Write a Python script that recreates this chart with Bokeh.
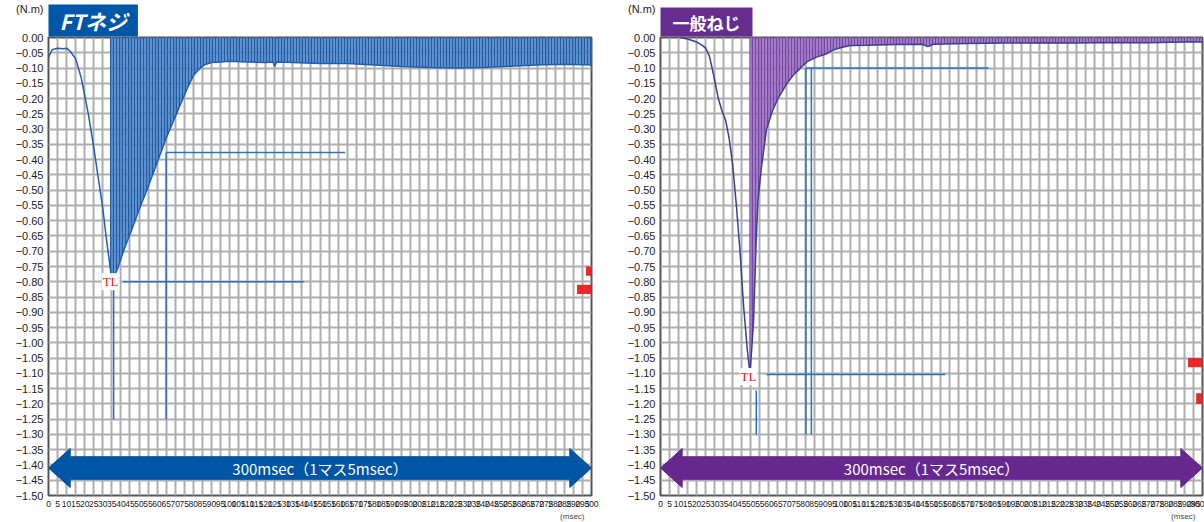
from bokeh.plotting import figure
from bokeh.models import FixedTicker, Label, Range1d, Title
from bokeh.layouts import row
from bokeh.embed import file_html
from bokeh.resources import INLINE

# ---------------- data ----------------
X_TICKS = list(range(0, 305, 5))
Y_TICKS = [0.0] + [round(-0.05 * i, 2) for i in range(1, 31)]
Y_TICK_LABELS = ["0.00"] + ["\u2212%.2f" % abs(t) for t in Y_TICKS[1:]]
Y_UNIT = "(N.m)"
X_UNIT = "(msec)"

# FT screw (left)
FT_TIME = [0, 2, 5, 8, 10, 12, 15, 18, 20, 22, 25, 28, 30, 32, 34, 35,
           38, 42, 46, 50, 55, 60, 65, 70, 75, 78, 80, 83, 86, 90, 95, 100,
           110, 120, 124, 125, 126, 135, 150, 165, 180, 195, 210, 225, 240,
           255, 270, 285, 300]
FT_TORQUE = [-0.065, -0.04, -0.035, -0.037, -0.035, -0.045, -0.07, -0.13, -0.19,
             -0.25, -0.36, -0.48, -0.56, -0.66, -0.75, -0.80,
             -0.76, -0.69, -0.63, -0.565, -0.49, -0.41, -0.33, -0.26, -0.19,
             -0.15, -0.125, -0.105, -0.09, -0.082, -0.08, -0.078,
             -0.08, -0.082, -0.08, -0.095, -0.08, -0.082, -0.085, -0.085, -0.09,
             -0.095, -0.098, -0.10, -0.098, -0.094, -0.09, -0.088, -0.09]
FT_SHADE_FROM = 34
FT_TL = (34.3, -0.80)
FT_SEG_X0 = [36, 41, 65, 65]
FT_SEG_Y0 = [-0.81, -0.80, -0.377, -0.377]
FT_SEG_X1 = [36, 141, 65, 164]
FT_SEG_Y1 = [-1.25, -0.80, -1.25, -0.377]
FT_RED_LEFT = [297, 292]
FT_RED_RIGHT = [300, 300]
FT_RED_TOP = [-0.75, -0.81]
FT_RED_BOTTOM = [-0.78, -0.84]

# General screw (right)
GEN_TIME = [11, 15, 20, 23, 25, 27, 28, 30, 32, 34, 36, 38, 40, 42, 44, 46, 48, 49.5,
            50.5, 51.5, 53, 54, 56, 58.7, 62, 65, 70, 74, 77.5, 81, 86, 92, 96, 100,
            105, 115, 130, 145, 148, 151, 170, 190, 210, 230, 250, 270, 290, 300]
GEN_TORQUE = [0.0, -0.005, -0.015, -0.025, -0.035, -0.06, -0.085, -0.14, -0.20, -0.24,
              -0.27, -0.33, -0.42, -0.55, -0.70, -0.88, -1.02, -1.10,
              -1.02, -0.93, -0.66, -0.53, -0.42, -0.30, -0.24, -0.20, -0.15, -0.12,
              -0.10, -0.08, -0.065, -0.053, -0.04, -0.033,
              -0.026, -0.025, -0.023, -0.022, -0.03, -0.022, -0.02, -0.018, -0.017,
              -0.018, -0.016, -0.017, -0.015, -0.015]
GEN_SHADE_FROM = 49.3
GEN_TL = (48.7, -1.11)
GEN_SEG_X0 = [53, 58.7, 80.5, 83.5, 80.5]
GEN_SEG_Y0 = [-1.156, -1.104, -0.10, -0.10, -0.10]
GEN_SEG_X1 = [53, 157.7, 80.5, 83.5, 181.5]
GEN_SEG_Y1 = [-1.30, -1.104, -1.30, -1.30, -0.10]
GEN_RED_LEFT = [292, 296.5]
GEN_RED_RIGHT = [300, 300]
GEN_RED_TOP = [-1.05, -1.165]
GEN_RED_BOTTOM = [-1.08, -1.20]

ARROW_TEXT = "300msec\uff081\u30de\u30b95msec\uff09"

JP = "'Noto Sans CJK JP', sans-serif"
SANS = "'Liberation Sans', Arial, sans-serif"


def build(width, bl, br, t, v, shade_from, line_color, fill_color, hatch_color,
          arrow_color, title, title_bg, title_size, title_style, title_pad, segs, reds, tl):
    p = figure(width=width, height=522, x_range=Range1d(0, 300), y_range=Range1d(-1.5, 0),
               output_backend="svg", toolbar_location=None,
               min_border_left=bl, min_border_right=br, min_border_top=37, min_border_bottom=27)
    p.background_fill_color = "white"
    p.border_fill_color = "white"
    p.outline_line_color = "#555555"
    p.outline_line_width = 2

    # brand box (title) and unit labels
    p.add_layout(Title(text=title, align="left", text_color="white", text_font=JP,
                       text_font_size=title_size, text_font_style=title_style,
                       background_fill_color=title_bg, padding=title_pad, standoff=2,
                       offset=0), "above")
    p.add_layout(Title(text=X_UNIT, align="right", text_color="#444444", text_font=SANS,
                       text_font_size="8px", text_font_style="normal", standoff=0,
                       offset=7), "below")

    p.xaxis.ticker = FixedTicker(ticks=X_TICKS)
    p.yaxis.ticker = FixedTicker(ticks=Y_TICKS)
    ov = {tk: lb for tk, lb in zip(Y_TICKS, Y_TICK_LABELS)}
    ov[0.0] = Y_UNIT + "\n\u00a0\n" + Y_TICK_LABELS[0] + "\n\u00a0\n\u00a0"
    p.yaxis.major_label_overrides = ov
    for ax in (p.xaxis, p.yaxis):
        ax.axis_line_color = None
        ax.major_tick_line_color = None
        ax.minor_tick_line_color = None
        ax.major_tick_out = 0
        ax.major_tick_in = 0
    p.yaxis.major_label_text_font = SANS
    p.yaxis.major_label_text_font_size = "11px"
    p.yaxis.major_label_text_color = "#222222"
    p.yaxis.major_label_standoff = 5
    p.xaxis.major_label_text_font = SANS
    p.xaxis.major_label_text_font_size = "8.5px"
    p.xaxis.major_label_text_color = "#222222"
    p.xaxis.major_label_standoff = 5

    p.xgrid.ticker = FixedTicker(ticks=X_TICKS)
    p.ygrid.ticker = FixedTicker(ticks=Y_TICKS)
    for g in (p.xgrid, p.ygrid):
        g.grid_line_color = "#adadad"
        g.grid_line_width = 2
        g.grid_line_alpha = 1

    idx = [i for i, a in enumerate(t) if a >= shade_from]
    fx = [shade_from] + [t[i] for i in idx]
    fy = [v[idx[0] - 1]] + [v[i] for i in idx]
    p.varea(x=fx, y1=[0] * len(fx), y2=fy, fill_color=fill_color, fill_alpha=0.85,
            hatch_pattern="vertical_line", hatch_color=hatch_color, hatch_scale=3,
            hatch_weight=1, hatch_alpha=0.8)
    p.line(t, v, line_color=line_color, line_width=1.5)

    x0, y0, x1, y1 = segs
    p.segment(x0, y0, x1, y1, line_color="#2a72c0", line_width=1.5)
    l, r, tp, bt = reds
    p.quad(left=l, right=r, top=tp, bottom=bt, fill_color="#e62a2a", line_color=None)

    # double arrow
    c, H, b, h = -1.41, 0.064, 0.037, 12
    xs = [0, h, h, 300 - h, 300 - h, 300, 300 - h, 300 - h, h, h]
    ys = [c, c + H, c + b, c + b, c + H, c, c - H, c - b, c - b, c - H]
    p.patch(xs, ys, fill_color=arrow_color, line_color=arrow_color, line_width=1)
    p.add_layout(Label(x=150, y=c, text=ARROW_TEXT, text_align="center", text_baseline="middle",
                       text_color="white", text_font=JP, text_font_size="15px"))

    p.add_layout(Label(x=tl[0], y=tl[1], text="TL", text_align="center", text_baseline="middle",
                       text_color="#e8141b", text_font="'Liberation Serif', serif",
                       text_font_size="13px", background_fill_color="white", padding=1))
    return p


p1 = build(615, 48, 24, FT_TIME, FT_TORQUE, FT_SHADE_FROM, "#1f5fae", "#3f7fca", "#1b4f94",
           "#0055a4", "FT\u30cd\u30b8", "#0057a8", "21px", "bold italic", (11, 1),
           (FT_SEG_X0, FT_SEG_Y0, FT_SEG_X1, FT_SEG_Y1),
           (FT_RED_LEFT, FT_RED_RIGHT, FT_RED_TOP, FT_RED_BOTTOM), FT_TL)
p2 = build(589, 45, 2, GEN_TIME, GEN_TORQUE, GEN_SHADE_FROM, "#3b3f8f", "#9466c0", "#6b3a9a",
           "#66288f", "\u4e00\u822c\u306d\u3058", "#662d91", "17px", "bold", (12, 2),
           (GEN_SEG_X0, GEN_SEG_Y0, GEN_SEG_X1, GEN_SEG_Y1),
           (GEN_RED_LEFT, GEN_RED_RIGHT, GEN_RED_TOP, GEN_RED_BOTTOM), GEN_TL)

layout = row(p1, p2)
open("out.html", "w").write(file_html(layout, INLINE))
